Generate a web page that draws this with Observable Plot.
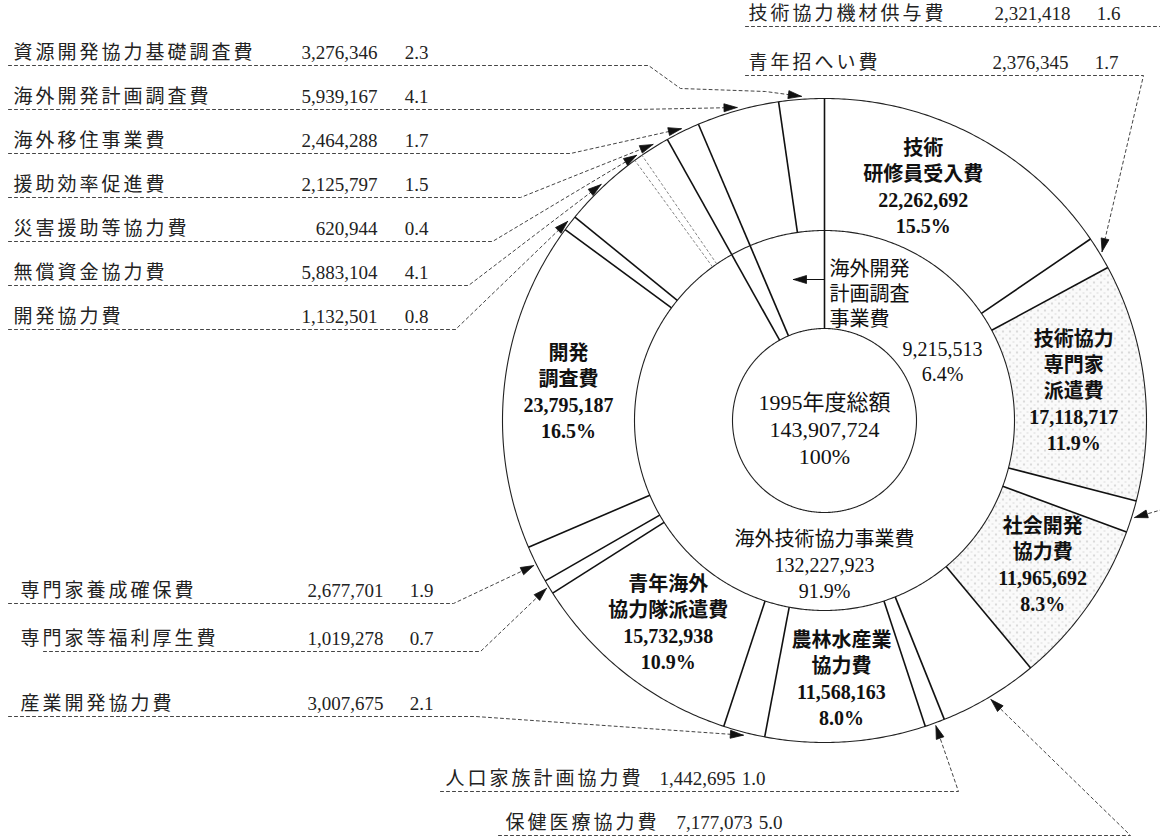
<!DOCTYPE html>
<html><head><meta charset="utf-8">
<script src="https://cdn.jsdelivr.net/npm/d3@7"></script>
<script src="https://cdn.jsdelivr.net/npm/@observablehq/plot@0.6"></script>
<style>
body{margin:0;background:#fff;}
#chart svg{overflow:hidden;background:#fff;}
</style></head><body><div id="chart"></div>
<script>
// ---------- data ----------
const items = ["技術研修員受入費","青年招へい費","技術協力専門家派遣費","技術協力機材供与費","社会開発協力費","保健医療協力費","人口家族計画協力費","農林水産業協力費","産業開発協力費","青年海外協力隊派遣費","専門家等福利厚生費","専門家養成確保費","開発調査費","開発協力費","無償資金協力費","災害援助等協力費","援助効率促進費","海外移住事業費","海外開発計画調査費","資源開発協力基礎調査費"];
const amounts = [22262692,2376345,17118717,2321418,11965692,7177073,1442695,11568163,3007675,15732938,1019278,2677701,23795187,1132501,5883104,620944,2125797,2464288,5939167,3276346];
const shares = [15.5,1.7,11.9,1.6,8.3,5.0,1.0,8.0,2.1,10.9,0.7,1.9,16.5,0.8,4.1,0.4,1.5,1.7,4.1,2.3];
const middleNames = ["海外技術協力事業費","海外移住事業費","海外開発計画調査事業費"];
const middleAmounts = [132227923,2464288,9215513];
const middleShares = [91.9,1.7,6.4];
const totalTitle = "1995年度総額";
const totalAmount = 143907724;
const totalShare = 100;

// ---------- layout ----------
const W = 1160, H = 840, CX = 824, CY = 420, S = 322;
const R1 = 1, RM = 190/S, RI = 92/S;
const rad = Math.PI/180;
const P = (a, r) => ({x: r*Math.sin(a*rad), y: r*Math.cos(a*rad)});
const ux = px => (px-CX)/S, uy = py => (CY-py)/S;
const fmt = d3.format(",");
const stippled = ["技術協力専門家派遣費","社会開発協力費"];
const faint = ["災害援助等協力費","援助効率促進費"];
const inLabels = {
  "技術研修員受入費": {t:"技術\n研修員受入費", dA:-5, r:0.79},
  "技術協力専門家派遣費": {t:"技術協力\n専門家\n派遣費", dA:0, r:0.78},
  "社会開発協力費": {t:"社会開発\n協力費", dA:-2, r:0.81},
  "農林水産業協力費": {t:"農林水産業\n協力費", dA:0, r:0.80},
  "青年海外協力隊派遣費": {t:"青年海外\n協力隊派遣費", dA:0, r:0.79},
  "開発調査費": {t:"開発\n調査費", dA:0, r:0.80}
};
// list rows: name, text x, row y, value right x, pct right x, underline x0,x1, via points
const rows = [
  ["資源開発協力基礎調査費",13,52,377,428,8,648,[[680,88],[765,91]]],
  ["海外開発計画調査費",13,96,377,428,8,635,[]],
  ["海外移住事業費",13,140,377,428,8,570,[]],
  ["援助効率促進費",13,184,377,428,8,520,[]],
  ["災害援助等協力費",13,228,377,428,8,492,[]],
  ["無償資金協力費",13,272,377,428,8,468,[]],
  ["開発協力費",13,316,377,428,8,455,[]],
  ["専門家養成確保費",20,590,383,433,8,453,[]],
  ["専門家等福利厚生費",20,638,383,433,43,480,[]],
  ["産業開発協力費",20,703,383,433,8,475,[]],
  ["人口家族計画協力費",445,778,735,765,440,958,[]],
  ["保健医療協力費",505,822,752,782,498,1130,[]],
  ["技術協力機材供与費",748,13,1070,1120,745,1200,[[1200,498]]],
  ["青年招へい費",748,62,1068,1118,745,1143,[]]
];

// ---------- geometry from data ----------
const total = d3.sum(amounts);
let acc = 0;
const slices = items.map((name,i) => {const a0 = acc/total*360; acc += amounts[i]; return {name, amount: amounts[i], share: shares[i], a0, a1: acc/total*360};});
slices.forEach(s => s.mid = (s.a0+s.a1)/2);
const mTotal = d3.sum(middleAmounts); acc = 0;
const mids = middleNames.map((name,i) => {const a0 = acc/mTotal*360; acc += middleAmounts[i]; return {name, amount: middleAmounts[i], share: middleShares[i], a0, a1: acc/mTotal*360};});

function poly(a0, a1, r0, r1, id) {
  const n = Math.max(2, Math.ceil((a1-a0)/0.5)), pts = [];
  for (let i=0;i<=n;i++) pts.push({id, ...P(a0+(a1-a0)*i/n, r1)});
  for (let i=n;i>=0;i--) pts.push({id, ...P(a0+(a1-a0)*i/n, r0)});
  pts.push(pts[0]);
  return pts;
}
const plainFill = slices.filter(s => !stippled.includes(s.name)).flatMap(s => poly(s.a0, s.a1, RM, R1, s.name));
const stipFill = slices.filter(s => stippled.includes(s.name)).flatMap(s => poly(s.a0, s.a1, RM, R1, s.name));
const circles = [R1, RM, RI].flatMap((r,k) => d3.range(0, 360.5, 0.5).map(a => ({id:k, ...P(a, r)})));
const bounds = [
  ...slices.map(s => ({a: s.a0, r0: RM, r1: R1, faint: faint.includes(s.name)})),
  ...mids.map(m => ({a: m.a0, r0: RI, r1: RM, faint: false}))
].map(b => ({...b, p0: P(b.a, b.r0), p1: P(b.a, b.r1)}));

// leaders
const byName = new Map(slices.map(s => [s.name, s]));
const leaders = [], heads = [];
function addHead(id, Q, T) {
  const dx = T.x-Q.x, dy = T.y-Q.y, L = Math.hypot(dx,dy), ex = dx/L, ey = dy/L;
  const l = 13/S, w = 4/S;
  const pts = [T, {x:T.x-ex*l-ey*w, y:T.y-ey*l+ex*w}, {x:T.x-ex*l+ey*w, y:T.y-ey*l-ex*w}, T];
  pts.forEach(p => heads.push({id, x:p.x, y:p.y}));
}
const listNames = [], listValues = [], listPcts = [];
rows.forEach(([name, nx, ry, vr, pr, u0, u1, via]) => {
  const s = byName.get(name);
  listNames.push({x: ux(nx), y: uy(ry), t: name});
  listValues.push({x: ux(vr), y: uy(ry), t: fmt(s.amount)});
  listPcts.push({x: ux(pr), y: uy(ry), t: s.share.toFixed(1)});
  const yu = ry + 13;
  const pts = [{x: ux(u0), y: uy(yu)}, {x: ux(u1), y: uy(yu)}, ...via.map(([a,b]) => ({x: ux(a), y: uy(b)}))];
  const T = P(s.mid, R1 + 3/S);
  pts.push(T);
  pts.forEach(p => leaders.push({id: name, ...p}));
  addHead(name, pts[pts.length-2], T);
});
// small arrow in the middle ring pointing to 海外開発計画調査事業費
const mArrowY = uy(279);
const mArrow = [{id:"m", x:0, y:mArrowY}, {id:"m", x:ux(793), y:mArrowY}];
addHead("m", mArrow[0], mArrow[1]);

// in-slice labels
const inText = slices.filter(s => inLabels[s.name]).map(s => {
  const L = inLabels[s.name], p = P(s.mid + L.dA, L.r);
  return {x: p.x, y: p.y, t: `${L.t}\n${fmt(s.amount)}\n${s.share.toFixed(1)}%`};
});
const mainMid = mids[0];
const mainPos = P(180, 0.445);
const devMid = mids[2];

const FF = '"Liberation Serif","Noto Sans CJK JP",serif';
const chart = Plot.plot({
  width: W, height: H, margin: 0,
  x: {domain: [ux(0), ux(W)], range: [0, W], axis: null},
  y: {domain: [uy(H), uy(0)], range: [H, 0], axis: null},
  marks: [
    Plot.line(plainFill, {x:"x", y:"y", z:"id", fill:"white", stroke:"none"}),
    Plot.line(stipFill, {x:"x", y:"y", z:"id", fill:"url(#stip)", stroke:"none"}),
    Plot.line(circles, {x:"x", y:"y", z:"id", stroke:"#222", strokeWidth:1.1}),
    Plot.link(bounds.filter(b => !b.faint), {x1: d=>d.p0.x, y1: d=>d.p0.y, x2: d=>d.p1.x, y2: d=>d.p1.y, stroke:"#111", strokeWidth:1.6}),
    Plot.link(bounds.filter(b => b.faint), {x1: d=>d.p0.x, y1: d=>d.p0.y, x2: d=>d.p1.x, y2: d=>d.p1.y, stroke:"#777", strokeWidth:0.9, strokeDasharray:"3,2"}),
    Plot.line(leaders, {x:"x", y:"y", z:"id", stroke:"#444", strokeWidth:1, strokeDasharray:"3,3", curve:"linear"}),
    Plot.line(mArrow, {x:"x", y:"y", z:"id", stroke:"#111", strokeWidth:1.2}),
    Plot.line(heads, {x:"x", y:"y", z:"id", fill:"#111", stroke:"#111", strokeWidth:0.8}),
    Plot.text(listNames, {x:"x", y:"y", text:"t", textAnchor:"start", fontSize:19, fontFamily:FF, fill:"#222"}),
    Plot.text(listValues, {x:"x", y:"y", text:"t", textAnchor:"end", fontSize:19, fontFamily:FF, fill:"#222"}),
    Plot.text(listPcts, {x:"x", y:"y", text:"t", textAnchor:"end", fontSize:19, fontFamily:FF, fill:"#222"}),
    Plot.text(inText, {x:"x", y:"y", text:"t", fontSize:20, lineHeight:1.3, fontFamily:FF, fontWeight:600, fill:"#111"}),
    Plot.text([{x:0, y:uy(428), t:`${totalTitle}\n${fmt(totalAmount)}\n${totalShare}%`}], {x:"x", y:"y", text:"t", fontSize:22, lineHeight:1.22, fontFamily:FF, fill:"#111"}),
    Plot.text([{x:mainPos.x, y:mainPos.y, t:`${mainMid.name}\n${fmt(mainMid.amount)}\n${mainMid.share.toFixed(1)}%`}], {x:"x", y:"y", text:"t", fontSize:20, lineHeight:1.3, fontFamily:FF, fill:"#111"}),
    Plot.text([{x:ux(829), y:uy(292), t:"海外開発\n計画調査\n事業費"}], {x:"x", y:"y", text:"t", textAnchor:"start", fontSize:20, lineHeight:1.25, fontFamily:FF, fill:"#111"}),
    Plot.text([{x:ux(942), y:uy(360), t:`${fmt(devMid.amount)}\n${devMid.share.toFixed(1)}%`}], {x:"x", y:"y", text:"t", fontSize:20, lineHeight:1.25, fontFamily:FF, fill:"#111"})
  ]
});
const ns = "http://www.w3.org/2000/svg";
const defs = document.createElementNS(ns, "defs");
defs.innerHTML = '<pattern id="stip" width="7" height="7" patternUnits="userSpaceOnUse"><rect width="7" height="7" fill="#fafafa"/><circle cx="1.5" cy="2" r="0.7" fill="#9a9a9a"/><circle cx="5" cy="5.5" r="0.6" fill="#b5b5b5"/></pattern>';
chart.insertBefore(defs, chart.firstChild);
// widen the list names like the reference's spaced lettering
const nameSet = new Set(rows.map(r => r[0]));
chart.querySelectorAll("text").forEach(t => { if (nameSet.has(t.textContent)) t.style.letterSpacing = "3px"; });
document.getElementById("chart").appendChild(chart);
</script></body></html>
